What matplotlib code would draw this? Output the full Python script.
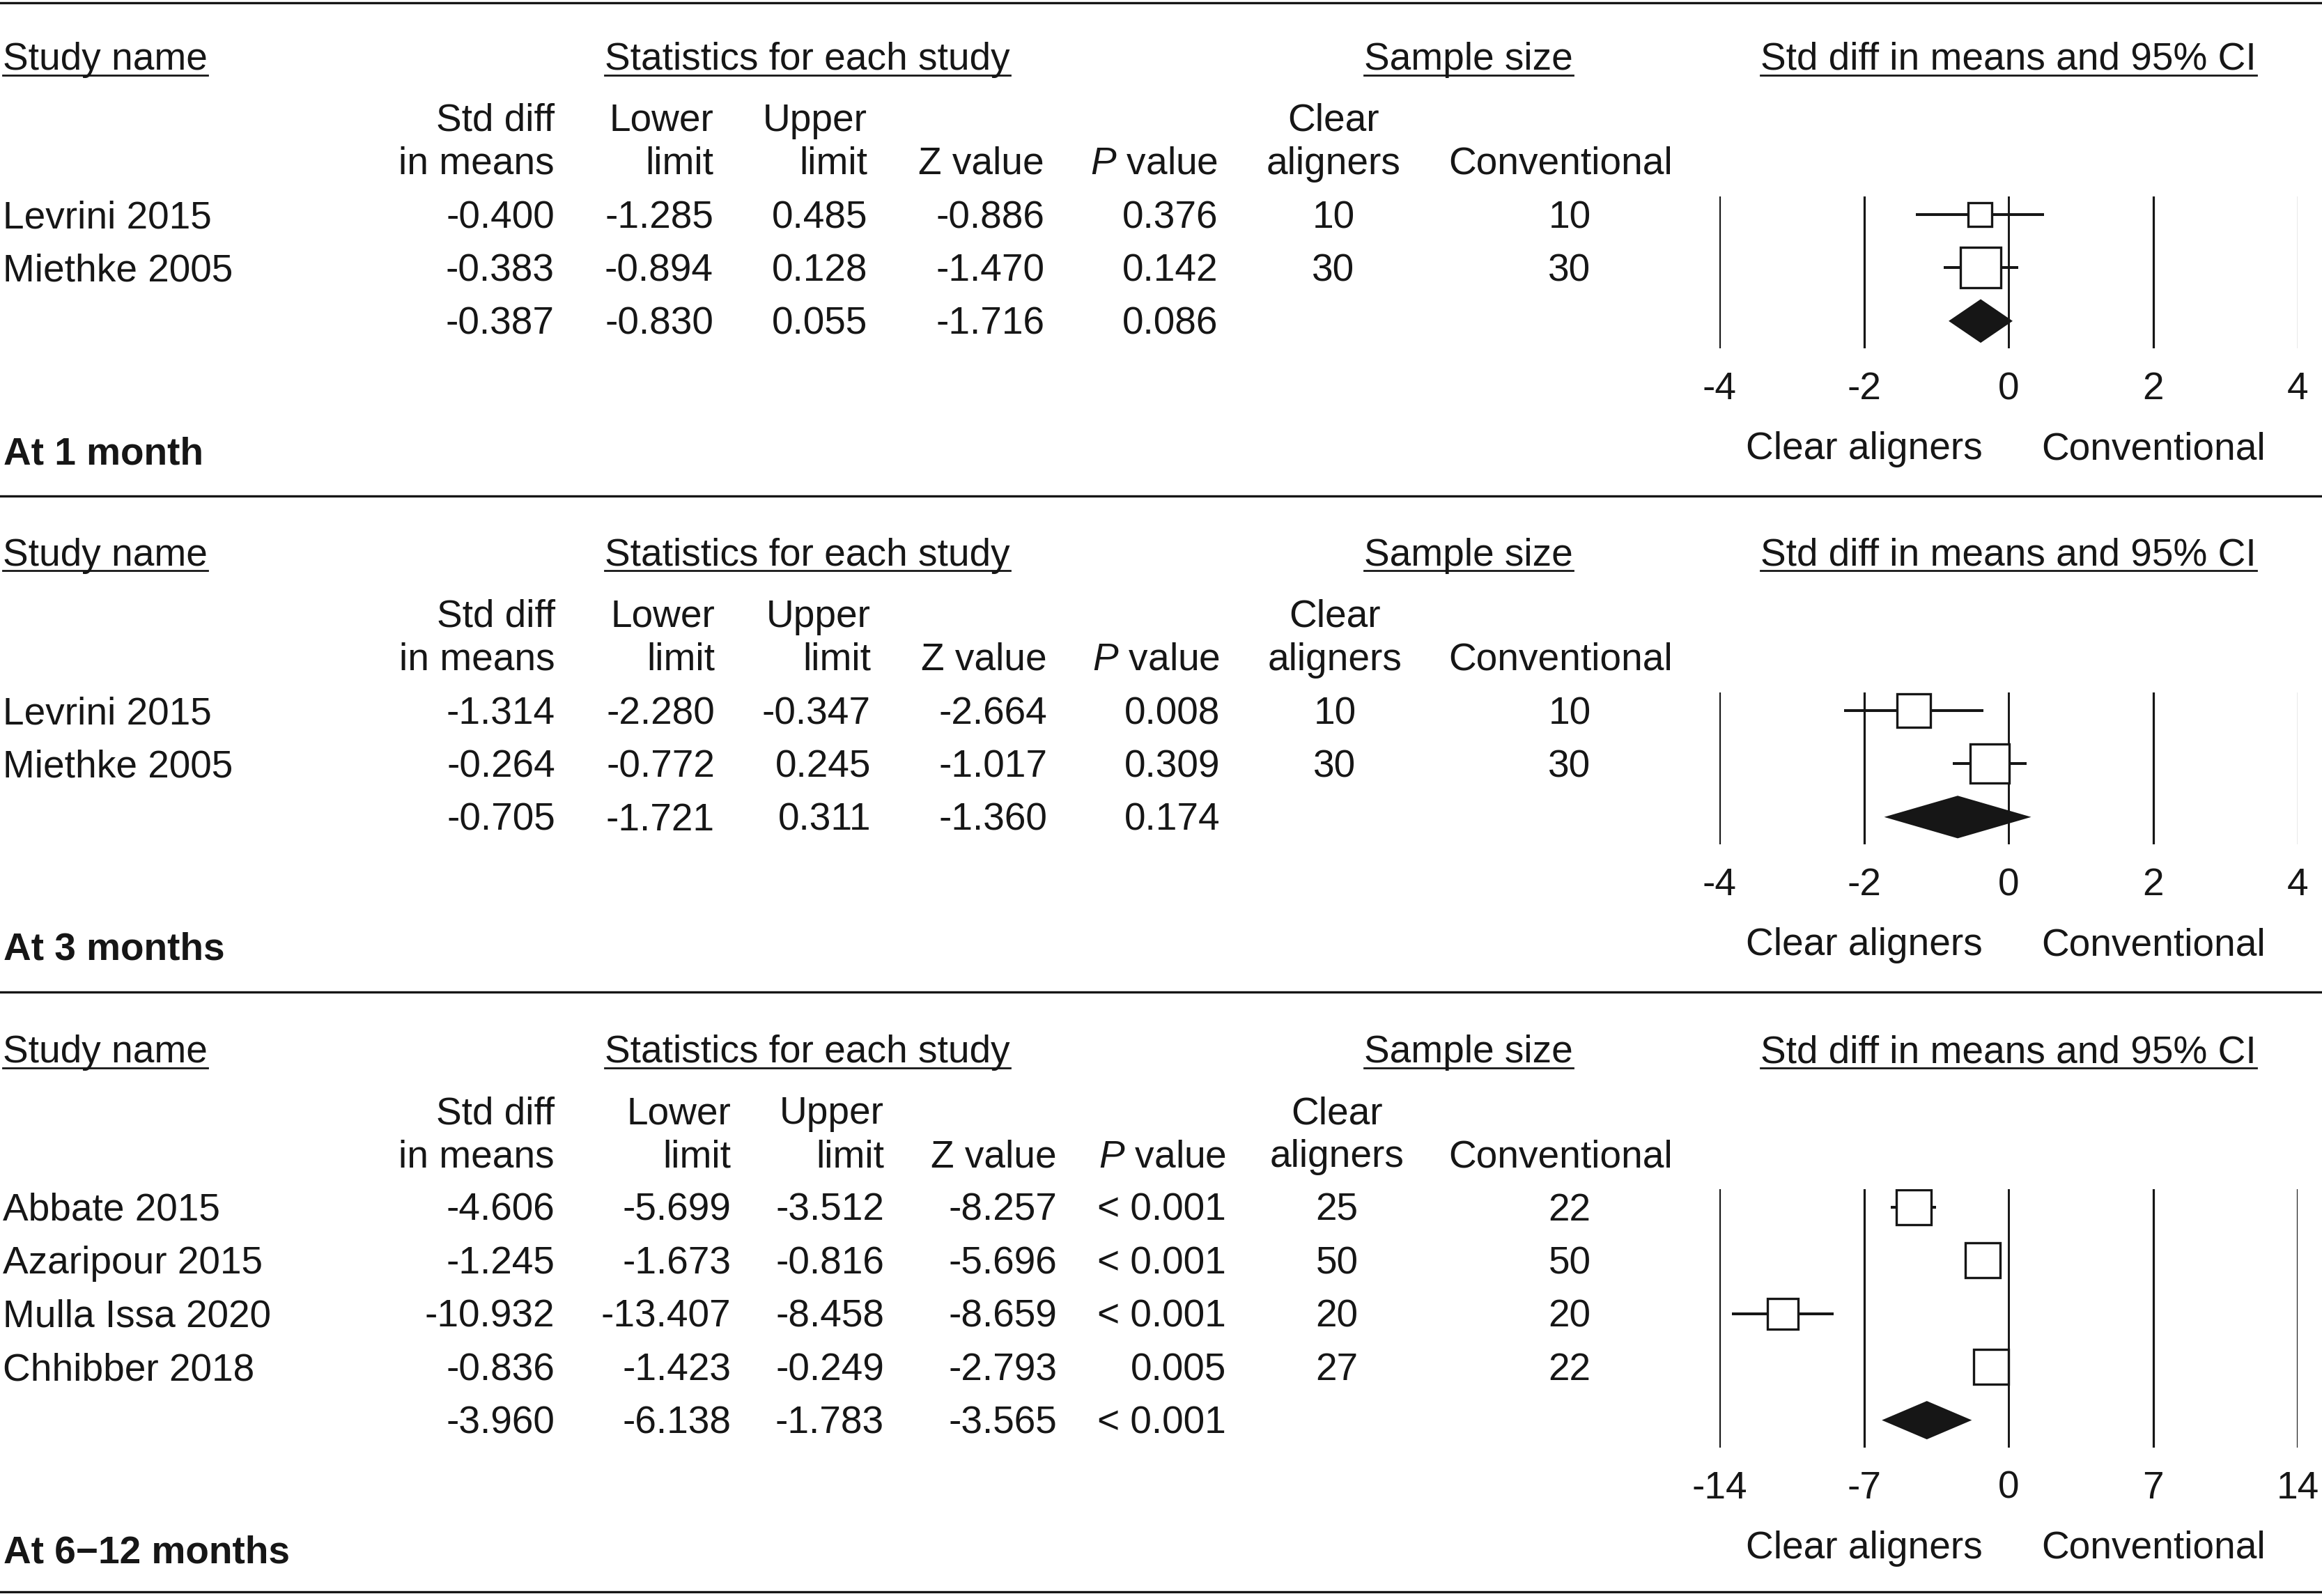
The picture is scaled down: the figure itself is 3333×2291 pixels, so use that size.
import numpy as np
import matplotlib.pyplot as plt
from matplotlib.lines import Line2D

plt.rcParams['font.family'] = ['Liberation Sans', 'DejaVu Sans']
plt.rcParams['mathtext.fontset'] = 'custom'
plt.rcParams['mathtext.rm'] = 'Liberation Sans'
plt.rcParams['mathtext.it'] = 'Liberation Sans:italic'

# ---- data (last entry of each stat list = pooled estimate) ----
titles = ["At 1 month", "At 3 months", "At 6\u221212 months"]

names_1 = ["Levrini 2015", "Miethke 2005"]
smd_1 = [-0.400, -0.383, -0.387]
lo_1 = [-1.285, -0.894, -0.830]
hi_1 = [0.485, 0.128, 0.055]
z_1 = [-0.886, -1.470, -1.716]
p_1 = ["0.376", "0.142", "0.086"]
nclear_1 = [10, 30]
nconv_1 = [10, 30]

names_2 = ["Levrini 2015", "Miethke 2005"]
smd_2 = [-1.314, -0.264, -0.705]
lo_2 = [-2.280, -0.772, -1.721]
hi_2 = [-0.347, 0.245, 0.311]
z_2 = [-2.664, -1.017, -1.360]
p_2 = ["0.008", "0.309", "0.174"]
nclear_2 = [10, 30]
nconv_2 = [10, 30]

names_3 = ["Abbate 2015", "Azaripour 2015", "Mulla Issa 2020", "Chhibber 2018"]
smd_3 = [-4.606, -1.245, -10.932, -0.836, -3.960]
lo_3 = [-5.699, -1.673, -13.407, -1.423, -6.138]
hi_3 = [-3.512, -0.816, -8.458, -0.249, -1.783]
z_3 = [-8.257, -5.696, -8.659, -2.793, -3.565]
p_3 = ["< 0.001", "< 0.001", "< 0.001", "0.005", "< 0.001"]
nclear_3 = [25, 50, 20, 27]
nconv_3 = [22, 50, 20, 22]

ticks_a = [-4, -2, 0, 2, 4]
ticks_b = [-14, -7, 0, 7, 14]

# ---- layout (pixels from top-left of a 3333x2291 canvas) ----
W, H, DPI = 3333, 2291, 200
FS = 19.8
INK = '#161616'
ROW = 76.4

fig = plt.figure(figsize=(W / DPI, H / DPI), dpi=DPI)


def fx(x):
    return x / W


def fy(y):
    return 1 - y / H


def txt(x, y, s, ha='right', **kw):
    return fig.text(fx(x), fy(y), s, ha=ha, va='baseline', fontsize=FS,
                    color=INK, **kw)


def hline(y, x0=0, x1=W, lw=1.2):
    fig.add_artist(Line2D([fx(x0), fx(x1)], [fy(y), fy(y)],
                          transform=fig.transFigure, color=INK, lw=lw))


panels = [
    dict(y0=0, names=names_1, smd=smd_1, lo=lo_1, hi=hi_1, z=z_1, p=p_1,
         nclear=nclear_1, nconv=nconv_1, ticks=ticks_a, title=titles[0],
         cols=[796, 1024, 1245, 1499, 1748, 1914, 2253], box=[37, 61], dh=0.41),
    dict(y0=712, names=names_2, smd=smd_2, lo=lo_2, hi=hi_2, z=z_2, p=p_2,
         nclear=nclear_2, nconv=nconv_2, ticks=ticks_a, title=titles[1],
         cols=[797, 1026, 1250, 1503, 1751, 1916, 2253], box=[52, 60], dh=0.40),
    dict(y0=1425, names=names_3, smd=smd_3, lo=lo_3, hi=hi_3, z=z_3, p=p_3,
         nclear=nclear_3, nconv=nconv_3, ticks=ticks_b, title=titles[2],
         cols=[796, 1049, 1269, 1517, 1760, 1919, 2253], box=[53, 53, 47, 53], dh=0.36),
]

underlined = []
hline(3.5, lw=1.2)

for pn in panels:
    y0 = pn['y0']
    c = pn['cols']
    n = len(pn['names'])
    extra = (n + 1 - 3) * ROW

    # headers
    underlined.append((txt(4, y0 + 100, "Study name", ha='left'), y0 + 100))
    underlined.append((txt(1159, y0 + 100, "Statistics for each study", ha='center'), y0 + 100))
    underlined.append((txt(2108, y0 + 100, "Sample size", ha='center'), y0 + 100))
    underlined.append((txt(2883, y0 + 100, "Std diff in means and 95% CI", ha='center'), y0 + 100))

    txt(c[0], y0 + 188, "Std diff")
    txt(c[1], y0 + 188, "Lower")
    txt(c[2], y0 + 188, "Upper")
    txt(c[5], y0 + 188, "Clear", ha='center')
    txt(c[0], y0 + 250, "in means")
    txt(c[1], y0 + 250, "limit")
    txt(c[2], y0 + 250, "limit")
    txt(c[3], y0 + 250, "Z value")
    txt(c[4], y0 + 250, "$P$ value")
    txt(c[5], y0 + 250, "aligners", ha='center')
    txt(2240, y0 + 250, "Conventional", ha='center')

    # table rows
    for i in range(n + 1):
        yb = y0 + 327 + i * ROW
        if i < n:
            txt(4, yb, pn['names'][i], ha='left')
            txt(c[5], yb, str(pn['nclear'][i]), ha='center')
            txt(c[6], yb, str(pn['nconv'][i]), ha='center')
        txt(c[0], yb, f"{pn['smd'][i]:.3f}")
        txt(c[1], yb, f"{pn['lo'][i]:.3f}")
        txt(c[2], yb, f"{pn['hi'][i]:.3f}")
        txt(c[3], yb, f"{pn['z'][i]:.3f}")
        txt(c[4], yb, pn['p'][i])

    txt(5, y0 + 666 + extra, pn['title'], ha='left', fontweight='bold')

    # forest plot
    top = y0 + 282
    bottom = y0 + 500 + extra
    row0 = y0 + 308
    ax = fig.add_axes([fx(2468), fy(bottom), (3298.5 - 2468) / W, (bottom - top) / H])
    ax.patch.set_alpha(0)
    ticks = pn['ticks']
    ax.set_xlim(ticks[0], ticks[-1])
    ax.set_ylim((bottom - row0) / ROW, (top - row0) / ROW)
    for s in ax.spines.values():
        s.set_visible(False)
    ax.set_yticks([])
    ax.set_xticks(ticks)
    ax.set_xticklabels([str(t) for t in ticks])
    ax.tick_params(axis='x', length=0, pad=33 * 72 / DPI, labelsize=FS, labelcolor=INK)
    for t in ticks:
        ax.axvline(t, color=INK, lw=1.05 if t == 0 else 1.15, zorder=1)

    rows = np.arange(n)
    ax.hlines(rows, pn['lo'][:n], pn['hi'][:n], color=INK, lw=1.45, zorder=2)
    for i in range(n):
        ms = (pn['box'][i] - 3.4) * 72 / DPI
        ax.plot(pn['smd'][i], rows[i], marker='s', ms=ms, mfc='white',
                mec=INK, mew=1.2, zorder=3)
    m, lo, hi = pn['smd'][n], pn['lo'][n], pn['hi'][n]
    dh = pn['dh']
    ax.fill([lo, m, hi, m], [n, n - dh, n, n + dh], color=INK, lw=0, zorder=3)

    lab_y = (y0 + 659 + extra - row0) / ROW
    ax.text(ticks[1], lab_y, "Clear aligners", ha='center', va='baseline',
            fontsize=FS, color=INK, clip_on=False)
    ax.text(ticks[3], lab_y, "Conventional", ha='center', va='baseline',
            fontsize=FS, color=INK, clip_on=False)

    hline(min(y0 + 712 + extra, 2285), lw=1.2)

# underlines under the group headers
fig.canvas.draw()
r = fig.canvas.get_renderer()
for t, yb in underlined:
    bb = t.get_window_extent(r)
    hline(yb + 7.5, bb.x0, bb.x1, lw=1.0)

fig.savefig('out.png', dpi=DPI)
